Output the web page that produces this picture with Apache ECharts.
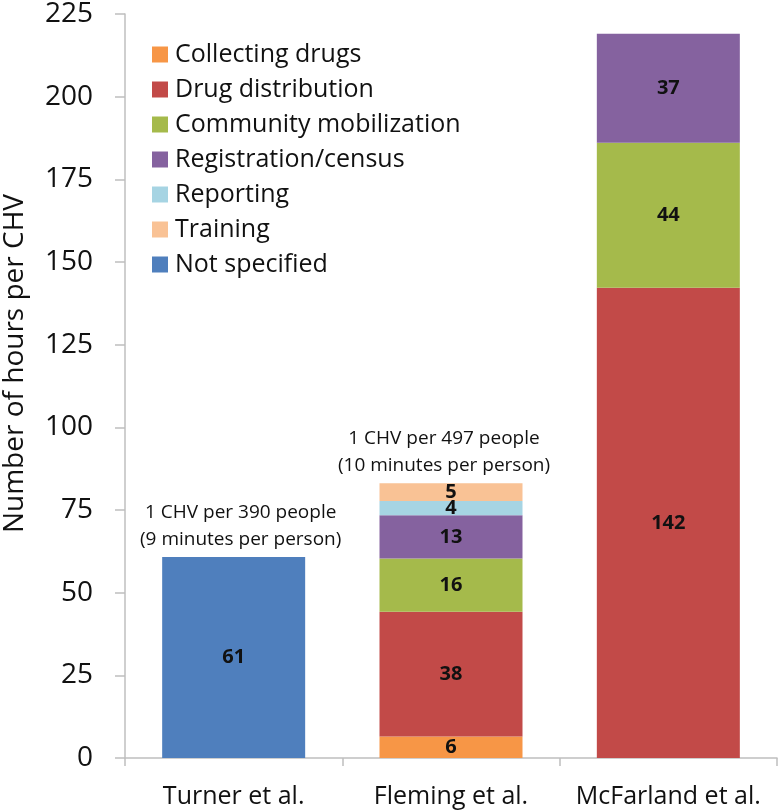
<!DOCTYPE html>
<html>
<head>
<meta charset="utf-8">
<script src="https://cdn.jsdelivr.net/npm/echarts@6/dist/echarts.min.js"></script>
<style>
html,body{margin:0;padding:0;background:#fff;}
#chart{width:780px;height:811px;}
</style>
</head>
<body>
<div id="chart"></div>
<script>
// Categories and tick settings
var categories = ['Turner et al.', 'Fleming et al.', 'McFarland et al.'];
var yTicks = { min: 0, max: 225, interval: 25 };

// Segment heights (hours per CHV)
var collectingDrugs    = [null, 6.5, null];
var drugDistribution   = [null, 37.7, 142.2];
var communityMob       = [null, 16.1, 43.9];
var registrationCensus = [null, 13.1, 32.9];
var reporting          = [null, 4.3, null];
var training           = [null, 5.4, null];
var notSpecified       = [60.8, null, null];

// Printed segment labels
var collectingLabels   = [null, '6', null];
var distributionLabels = [null, '38', '142'];
var mobilizationLabels = [null, '16', '44'];
var registrationLabels = [null, '13', '37'];
var reportingLabels    = [null, '4', null];
var trainingLabels     = [null, '5', null];
var notSpecLabels      = ['61', null, null];

// Annotations above bars
var annotations = ['1 CHV per 390 people\n(9 minutes per person)', '1 CHV per 497 people\n(10 minutes per person)', null];

var seriesDefs = [
  { name: 'Collecting drugs', data: collectingDrugs, labels: collectingLabels, color: '#F79646' },
  { name: 'Drug distribution', data: drugDistribution, labels: distributionLabels, color: '#C24A48' },
  { name: 'Community mobilization', data: communityMob, labels: mobilizationLabels, color: '#A5BA4B' },
  { name: 'Registration/census', data: registrationCensus, labels: registrationLabels, color: '#85629F' },
  { name: 'Reporting', data: reporting, labels: reportingLabels, color: '#A6D4E3' },
  { name: 'Training', data: training, labels: trainingLabels, color: '#F9C295' },
  { name: 'Not specified', data: notSpecified, labels: notSpecLabels, color: '#4F7FBD' }
];

var FONT = '"Open Sans", sans-serif';
var TEXT = '#111111';

var series = seriesDefs.map(function (d) {
  return {
    name: d.name,
    type: 'bar',
    stack: 'total',
    barWidth: 143,
    data: d.data,
    itemStyle: { color: d.color },
    label: {
      show: true,
      position: 'inside',
      fontFamily: FONT,
      fontWeight: 'bold',
      fontSize: 20,
      color: TEXT,
      formatter: (function (labels) {
        return function (p) { return labels[p.dataIndex] || ''; };
      })(d.labels)
    },
    emphasis: { disabled: true }
  };
});

// totals for annotation placement
var totals = categories.map(function (c, i) {
  var s = 0;
  seriesDefs.forEach(function (d) { if (d.data[i] != null) s += d.data[i]; });
  return s;
});
var annotOffsets = [[7, 0], [-7, 0], [0, 0]];
var annotData = [];
categories.forEach(function (c, i) {
  if (annotations[i]) {
    annotData.push({
      value: [i, totals[i]],
      label: { formatter: annotations[i], offset: annotOffsets[i], color: TEXT }
    });
  }
});
series.push({
  name: 'annotations',
  type: 'scatter',
  symbolSize: 0,
  data: annotData,
  silent: true,
  itemStyle: { color: TEXT, opacity: 1 },
  label: {
    show: true,
    position: 'top',
    distance: 4,
    fontFamily: FONT,
    fontSize: 19,
    lineHeight: 27,
    color: TEXT,
    opacity: 1,
    align: 'center'
  },
  z: 10
});

var chart = echarts.init(document.getElementById('chart'), null, { renderer: 'canvas' });
chart.setOption({
  animation: false,
  backgroundColor: '#ffffff',
  grid: { left: 125, right: 3, top: 13, bottom: 53, containLabel: false },
  legend: {
    orient: 'vertical',
    left: 147,
    top: 37,
    itemWidth: 16,
    itemHeight: 16,
    itemGap: 10,
    icon: 'rect',
    data: seriesDefs.map(function (d) { return d.name; }),
    textStyle: { fontFamily: FONT, fontSize: 25, color: TEXT, padding: [0, 0, 0, 2] },
    selectedMode: false
  },
  xAxis: {
    type: 'category',
    data: categories,
    axisLine: { show: true, lineStyle: { color: '#BFBFBF', width: 1.5 } },
    axisTick: { show: true, alignWithLabel: false, length: 8, lineStyle: { color: '#BFBFBF', width: 1.5 } },
    axisLabel: { interval: 0, fontFamily: FONT, fontSize: 25, color: TEXT, margin: 26 },
    splitLine: { show: false }
  },
  yAxis: {
    type: 'value',
    min: yTicks.min,
    max: yTicks.max,
    interval: yTicks.interval,
    axisLine: { show: true, lineStyle: { color: '#BFBFBF', width: 1.5 } },
    axisTick: { show: true, inside: false, length: 10, lineStyle: { color: '#BFBFBF', width: 1.5 } },
    axisLabel: { fontFamily: FONT, fontSize: 28, color: TEXT, margin: 32 },
    splitLine: { show: false }
  },
  graphic: [{
    type: 'text',
    left: 1,
    top: 194,
    rotation: Math.PI / 2,
    style: {
      text: 'Number of hours per CHV',
      fontFamily: FONT,
      fontSize: 28,
      fill: TEXT
    }
  }],
  series: series
});
</script>
</body>
</html>
